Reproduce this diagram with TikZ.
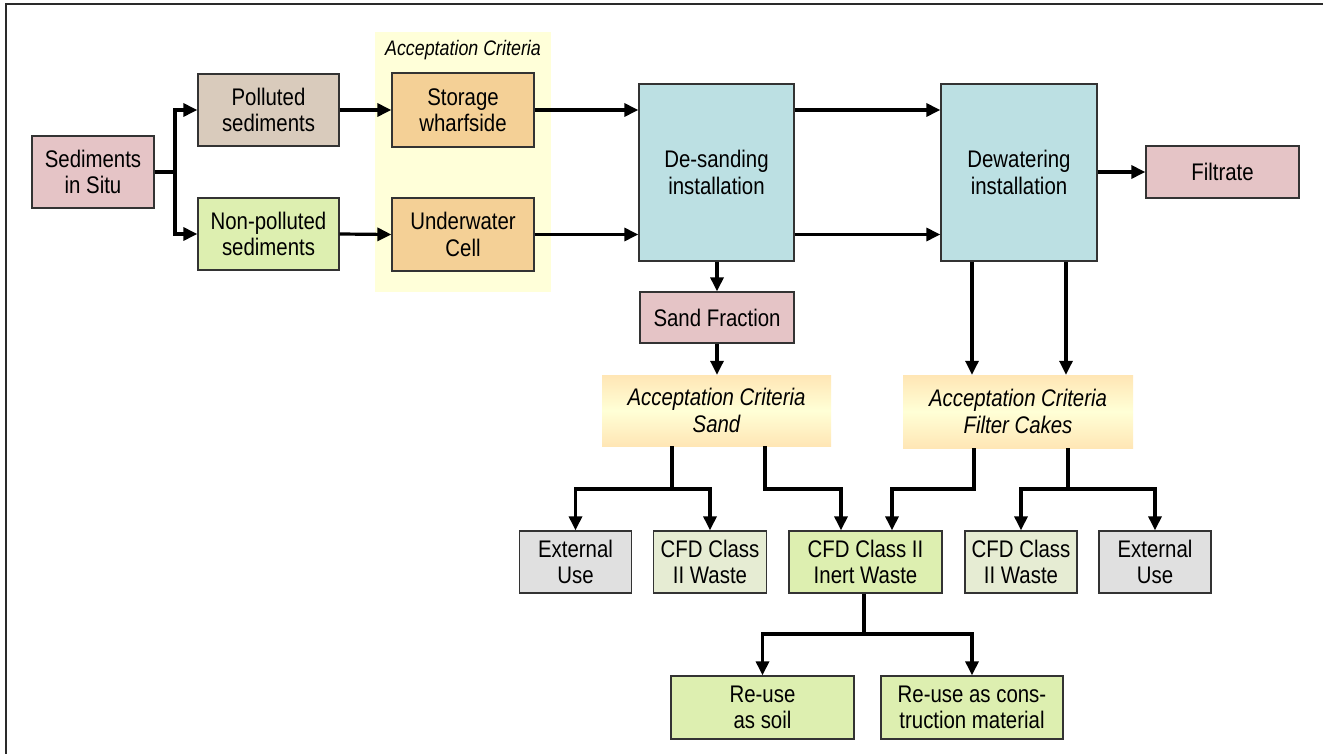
\documentclass[tikz,border=0pt]{standalone}
\usepackage{fontspec}
\setmainfont{Liberation Sans}[FakeStretch=0.85]
\usetikzlibrary{arrows.meta,calc}
\definecolor{pinkc}{HTML}{E5C4C6}
\definecolor{tanc}{HTML}{D9CBBC}
\definecolor{greenc}{HTML}{DDEFB0}
\definecolor{palec}{HTML}{E6ECD3}
\definecolor{grayc}{HTML}{E0E0E0}
\definecolor{orangec}{HTML}{F4D096}
\definecolor{bluec}{HTML}{BCE0E3}
\definecolor{ybgc}{HTML}{FFFFD9}
\definecolor{accedge}{HTML}{FFE6B5}
\definecolor{accmid}{HTML}{FFFFD6}
\definecolor{boxline}{HTML}{333333}
\definecolor{framec}{HTML}{2A2A2A}
\begin{document}
\begin{tikzpicture}[x=1pt,y=-1pt,
  box/.style={draw=boxline, line width=1.3pt, align=center, inner sep=0pt,
    font=\fontsize{24}{26.5}\selectfont, text=black},
  accbox/.style={align=center, inner sep=0pt, top color=accedge, bottom color=accedge,
    middle color=accmid, font=\fontsize{24}{26.5}\selectfont\itshape, text=black},
  arr/.style={line width=3.2pt, -{Triangle[length=14pt,width=13pt]}},
  ln/.style={line width=3.2pt}]
\useasboundingbox (0,0) rectangle (1323,754);
\fill[white] (0,0) rectangle (1323,754);
\draw[framec, line width=2pt] (5.5,754) -- (5.5,4.5) -- (1323,4.5);

% yellow acceptance background
\fill[ybgc] (375,32) rectangle (551,292);
\node[font=\fontsize{21}{24}\selectfont\itshape, inner sep=0pt] (acctop) at (463,50) {Acceptation Criteria};

% nodes
\node[box, fill=pinkc, minimum width=122pt, minimum height=72pt] (sit) at (93,172) {Sediments\\in Situ};
\node[box, fill=tanc, minimum width=141pt, minimum height=72pt] (pol) at (268.5,110) {Polluted\\sediments};
\node[box, fill=greenc, minimum width=141pt, minimum height=72pt] (npol) at (268.5,234) {Non-polluted\\sediments};
\node[box, fill=orangec, minimum width=142pt, minimum height=74pt] (sto) at (463,110) {Storage\\wharfside};
\node[box, fill=orangec, minimum width=142pt, minimum height=73pt] (uw) at (463,234.5) {Underwater\\Cell};
\node[box, fill=bluec, minimum width=155pt, minimum height=177pt] (des) at (716.5,172.5) {De-sanding\\installation};
\node[box, fill=bluec, minimum width=156pt, minimum height=177pt] (dew) at (1019,172.5) {Dewatering\\installation};
\node[box, fill=pinkc, minimum width=153pt, minimum height=52pt] (fil) at (1222.5,172) {Filtrate};
\node[box, fill=pinkc, minimum width=154pt, minimum height=51pt] (sand) at (717,317.5) {Sand Fraction};
\node[accbox, minimum width=229pt, minimum height=71pt] (acs) at (716.5,410.5) {Acceptation Criteria\\Sand};
\node[accbox, minimum width=230pt, minimum height=73pt] (acf) at (1018,411.5) {Acceptation Criteria\\Filter Cakes};
\node[box, fill=grayc, minimum width=112pt, minimum height=62pt] (ext1) at (575.5,562) {External\\Use};
\node[box, fill=palec, minimum width=113pt, minimum height=62pt] (cfd1) at (710,562) {CFD Class\\II Waste};
\node[box, fill=greenc, minimum width=153pt, minimum height=62pt] (inert) at (865.5,562) {CFD Class II\\Inert Waste};
\node[box, fill=palec, minimum width=112pt, minimum height=62pt] (cfd2) at (1021,562) {CFD Class\\II Waste};
\node[box, fill=grayc, minimum width=112pt, minimum height=62pt] (ext2) at (1155,562) {External\\Use};
\node[box, fill=greenc, minimum width=183pt, minimum height=63pt] (soil) at (762.5,707.5) {Re-use\\as soil};
\node[box, fill=greenc, minimum width=182pt, minimum height=63pt] (cons) at (972,707.5) {Re-use as cons-\\truction material};

% junction coordinates
\coordinate (js) at (175,172);
\coordinate (ja) at (672,489);
\coordinate (jb) at (765,489);
\coordinate (jc) at (974,489);
\coordinate (jd) at (1068,489);
\coordinate (je) at (864,634);

% connectors
\draw[ln] (sit.east) -- (js);
\draw[arr] (js) |- (pol.west);
\draw[arr] (js) |- (npol.west);
\draw[arr] (pol.east) -- (sto.west);
\draw[arr] (npol.east) -- (uw.west);
\draw[arr] (sto.east) -- (sto.east -| des.west);
\draw[arr] (uw.east) -- (uw.east -| des.west);
\draw[arr] (des.east |- sto.east) -- (dew.west |- sto.east);
\draw[arr] (des.east |- uw.east) -- (dew.west |- uw.east);
\draw[arr] (dew.east |- fil.west) -- (fil.west);
\draw[arr] (sand.north |- des.south) -- (sand.north);
\draw[arr] (sand.south) -- (sand.south |- acs.north);
\draw[arr] ([xshift=-47pt]dew.south) -- ([xshift=-46pt]acf.north);
\draw[arr] ([xshift=47pt]dew.south) -- ([xshift=48pt]acf.north);
\draw[ln] (acs.south -| ja) -- (ja);
\draw[arr] (ja) -| (ext1.north);
\draw[arr] (ja) -| (cfd1.north);
\draw[arr] (acs.south -| jb) -- (jb) -| ([xshift=-24.5pt]inert.north);
\draw[arr] (acf.south -| jc) -- (jc) -| ([xshift=26.5pt]inert.north);
\draw[ln] (acf.south -| jd) -- (jd);
\draw[arr] (jd) -| (cfd2.north);
\draw[arr] (jd) -| (ext2.north);
\draw[ln] (inert.south -| je) -- (je);
\draw[arr] (je) -| (soil.north);
\draw[arr] (je) -| (cons.north);
\end{tikzpicture}
\end{document}
